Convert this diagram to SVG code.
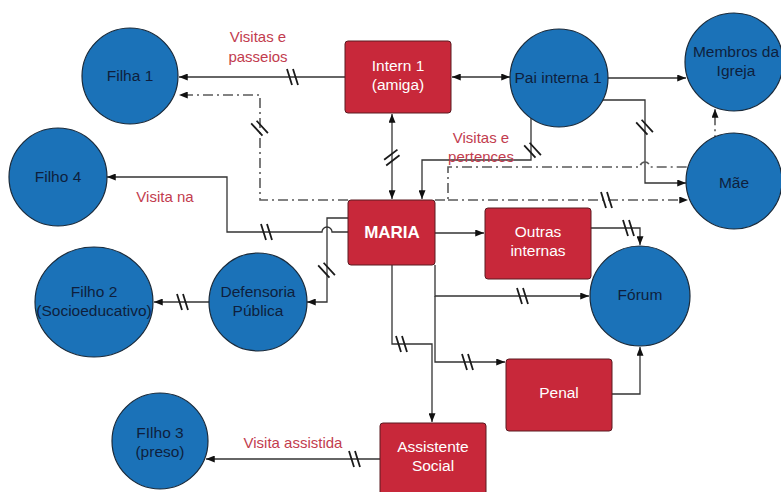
<svg xmlns="http://www.w3.org/2000/svg" xmlns:xlink="http://www.w3.org/1999/xlink" width="781" height="492" viewBox="0 0 781 492">
  <style>
    .circ { fill: #1b72b8; stroke: #1a2a3a; stroke-width: 1.2; }
    .box { fill: #c8283a; stroke: #5a1a20; stroke-width: 1; }
    .ct { font-family: "Liberation Sans", Arial, sans-serif; font-size: 15.5px; fill: #0e1f3d; text-anchor: middle; }
    .bt { font-family: "Liberation Sans", Arial, sans-serif; font-size: 15.5px; fill: #ffffff; text-anchor: middle; }
    .bold { font-weight: bold; font-size: 17px; }
    .lbl { font-family: "Liberation Sans", Arial, sans-serif; font-size: 15px; fill: #c23c4e; text-anchor: middle; }
    .ln { fill: none; stroke: #333333; stroke-width: 1.3; }
    .dd { fill: none; stroke: #5a5a5a; stroke-width: 1.6; stroke-dasharray: 10 4 2 4; }
    .hash { fill: none; stroke: #1a1a1a; stroke-width: 1.8; }
  </style>
  <defs>
    <marker id="arr" viewBox="0 0 10 8" refX="10" refY="4" markerWidth="10" markerHeight="7" markerUnits="userSpaceOnUse" orient="auto-start-reverse">
      <path d="M0,0 L10,4 L0,8 Z" fill="#111111"/>
    </marker>
    <path id="hh" d="M-6,-8 L-1,8 M0,-8 L5,8"/>
  </defs>

  <rect width="781" height="492" fill="#ffffff"/>

  <!-- connectors -->
  <g id="connectors">
    <path class="ln" d="M345,77 H179" marker-end="url(#arr)"/>
    <path class="dd" d="M348,200 H260 V95 H179" marker-end="url(#arr)"/>
    <path class="ln" d="M392,114 V199" marker-start="url(#arr)" marker-end="url(#arr)"/>
    <path class="ln" d="M452,77 H510" marker-start="url(#arr)" marker-end="url(#arr)"/>
    <path class="ln" d="M607,78 H686" marker-end="url(#arr)"/>
    <path class="ln" d="M602,100 H645 V183 H686" marker-end="url(#arr)"/>
    <path class="ln" d="M531,118 V160 H422 V199" marker-end="url(#arr)"/>
    <path class="dd" d="M435,200 H448 V167 H640 A5,5 0 0 1 650,167 H715 V109" marker-end="url(#arr)"/>
    <path class="dd" d="M448,200 H688" marker-end="url(#arr)"/>
    <path class="ln" d="M348,218 H327 V302 H307" marker-end="url(#arr)"/>
    <path class="ln" d="M348,232 H332 A5,5 0 0 0 322,232 H227 V177 H107" marker-end="url(#arr)"/>
    <path class="ln" d="M211,302 H154" marker-end="url(#arr)"/>
    <path class="ln" d="M435,233 H484" marker-end="url(#arr)"/>
    <path class="ln" d="M591,228 H640 V245" marker-end="url(#arr)"/>
    <path class="ln" d="M435,265 V296 H589" marker-end="url(#arr)"/>
    <path class="ln" d="M435,296 V362 H505" marker-end="url(#arr)"/>
    <path class="ln" d="M392,265 V344 H432 V422" marker-end="url(#arr)"/>
    <path class="ln" d="M612,394 H640 V347" marker-end="url(#arr)"/>
    <path class="ln" d="M380,459 H206" marker-end="url(#arr)"/>

    <!-- break marks on the links -->
    <g class="hash">
      <use xlink:href="#hh" transform="translate(293,77)"/>
      <use xlink:href="#hh" transform="translate(260,128) rotate(-25)"/>
      <use xlink:href="#hh" transform="translate(392,158) rotate(70)"/>
      <use xlink:href="#hh" transform="translate(645,127) rotate(-25)"/>
      <use xlink:href="#hh" transform="translate(533,150) rotate(-25)"/>
      <use xlink:href="#hh" transform="translate(607,200)"/>
      <use xlink:href="#hh" transform="translate(327,270) rotate(-25)"/>
      <use xlink:href="#hh" transform="translate(267,232)"/>
      <use xlink:href="#hh" transform="translate(183,302)"/>
      <use xlink:href="#hh" transform="translate(629,228)"/>
      <use xlink:href="#hh" transform="translate(523,296)"/>
      <use xlink:href="#hh" transform="translate(468,362)"/>
      <use xlink:href="#hh" transform="translate(402,344)"/>
      <use xlink:href="#hh" transform="translate(355,459)"/>
    </g>

    <!-- link labels -->
    <text class="lbl" x="258" y="42">Visitas e</text>
    <text class="lbl" x="258" y="62">passeios</text>
    <text class="lbl" x="165" y="202">Visita na</text>
    <text class="lbl" x="481" y="143">Visitas e</text>
    <text class="lbl" x="481" y="162">pertences</text>
    <text class="lbl" x="293" y="448">Visita assistida</text>
  </g>

  <!-- nodes -->
  <g id="filha1">
    <circle class="circ" cx="130" cy="76" r="48"/>
    <text class="ct" x="130" y="81">Filha 1</text>
  </g>
  <g id="filho4">
    <circle class="circ" cx="58" cy="177" r="49"/>
    <text class="ct" x="58" y="182">Filho 4</text>
  </g>
  <g id="filho2">
    <ellipse class="circ" cx="94" cy="302" rx="59" ry="55"/>
    <text class="ct" x="94" y="297">Filho 2</text>
    <text class="ct" x="94" y="316">(Socioeducativo)</text>
  </g>
  <g id="defensoria">
    <circle class="circ" cx="258" cy="302" r="49"/>
    <text class="ct" x="258" y="297">Defensoria</text>
    <text class="ct" x="258" y="316">Pública</text>
  </g>
  <g id="filho3">
    <circle class="circ" cx="160" cy="441" r="48"/>
    <text class="ct" x="160" y="438">FIlho 3</text>
    <text class="ct" x="160" y="457">(preso)</text>
  </g>
  <g id="intern1">
    <rect class="box" x="345" y="41" width="106" height="72" rx="3"/>
    <text class="bt" x="398" y="71">Intern 1</text>
    <text class="bt" x="398" y="90">(amiga)</text>
  </g>
  <g id="pai-interna">
    <circle class="circ" cx="559" cy="78" r="49"/>
    <text class="ct" x="558" y="83">Pai interna 1</text>
  </g>
  <g id="membros-igreja">
    <circle class="circ" cx="734" cy="62" r="49"/>
    <text class="ct" x="736" y="57">Membros da</text>
    <text class="ct" x="736" y="76">Igreja</text>
  </g>
  <g id="mae">
    <circle class="circ" cx="734" cy="181" r="48"/>
    <text class="ct" x="734" y="188">Mãe</text>
  </g>
  <g id="maria">
    <rect class="box" x="348" y="200" width="87" height="65" rx="3"/>
    <text class="bt bold" x="392" y="238">MARIA</text>
  </g>
  <g id="outras-internas">
    <rect class="box" x="485" y="208" width="106" height="71" rx="3"/>
    <text class="bt" x="538" y="237">Outras</text>
    <text class="bt" x="538" y="256">internas</text>
  </g>
  <g id="forum">
    <circle class="circ" cx="640" cy="296" r="50"/>
    <text class="ct" x="640" y="300">Fórum</text>
  </g>
  <g id="penal">
    <rect class="box" x="506" y="359" width="106" height="72" rx="3"/>
    <text class="bt" x="559" y="398">Penal</text>
  </g>
  <g id="assistente-social">
    <rect class="box" x="380" y="423" width="106" height="74" rx="3"/>
    <text class="bt" x="433" y="452">Assistente</text>
    <text class="bt" x="433" y="471">Social</text>
  </g>
</svg>
